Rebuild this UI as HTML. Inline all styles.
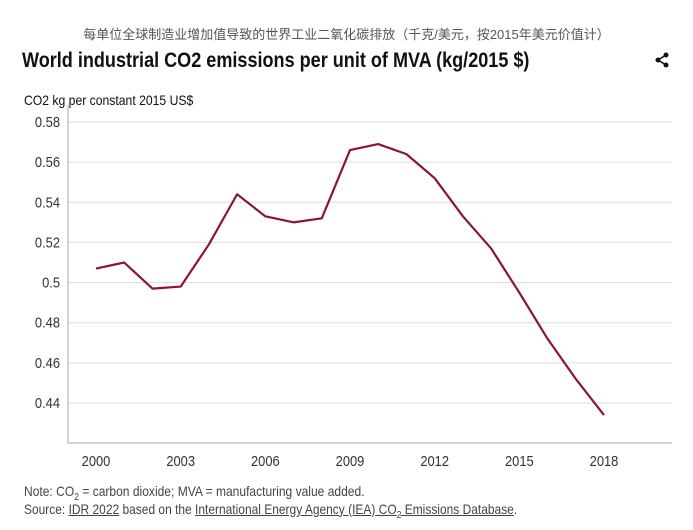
<!DOCTYPE html>
<html><head><meta charset="utf-8"><style>
body{margin:0;background:#fff;width:693px;height:530px;overflow:hidden;font-family:"Liberation Sans","Noto Sans CJK SC",sans-serif;}
.t{position:absolute;white-space:nowrap;transform-origin:0 0}
</style></head><body>
<div class="t" style="left:0;width:693px;text-align:center;top:24px;font-size:13px;color:#555">每单位全球制造业增加值导致的世界工业二氧化碳排放（千克/美元，按2015年美元价值计）</div>
<div class="t" style="left:22px;top:49px;font-size:21px;font-weight:bold;color:#111;transform:scaleX(0.86)">World industrial CO2 emissions per unit of MVA (kg/2015 $)</div>
<svg style="position:absolute;left:654px;top:52px" width="16" height="16" viewBox="0 0 16 16"><circle cx="12" cy="3" r="2.5" fill="#111"/><circle cx="4" cy="8" r="2.5" fill="#111"/><circle cx="12" cy="13" r="2.5" fill="#111"/><path d="M12 3L4 8L12 13" stroke="#111" stroke-width="1.6" fill="none"/></svg>
<div class="t" style="left:24px;top:92px;font-size:14px;color:#111;transform:scaleX(0.87)">CO2 kg per constant 2015 US$</div>
<svg id="c" width="693" height="530" style="position:absolute;left:0;top:0"></svg>
<div class="t" style="left:24px;top:483px;font-size:14px;color:#444;transform:scaleX(0.86)">Note: CO<sub style="font-size:10px">2</sub> = carbon dioxide; MVA = manufacturing value added.</div>
<div class="t" style="left:24px;top:501px;font-size:14px;color:#444;transform:scaleX(0.855)">Source: <u>IDR 2022</u> based on the <u>International Energy Agency (IEA) CO<sub style="font-size:10px">2</sub> Emissions Database</u>.</div>
<script>
const years=[2000,2001,2002,2003,2004,2005,2006,2007,2008,2009,2010,2011,2012,2013,2014,2015,2016,2017,2018];
const values=[0.507,0.510,0.497,0.498,0.519,0.544,0.533,0.530,0.532,0.566,0.569,0.564,0.552,0.533,0.517,0.495,0.472,0.452,0.434];
const yTicks=[0.44,0.46,0.48,0.5,0.52,0.54,0.56,0.58];
const xTicks=[2000,2003,2006,2009,2012,2015,2018];
const NS="http://www.w3.org/2000/svg",svg=document.getElementById('c');
const X=v=>96+(v-2000)*(604-96)/18;
const Y=v=>403-(v-0.44)*(403-122)/0.14;
function mk(t,a){const e=document.createElementNS(NS,t);for(const k in a)e.setAttribute(k,a[k]);svg.appendChild(e);return e;}
yTicks.forEach(v=>{
 const g=mk('line',{x1:68,x2:672,y1:Y(v),y2:Y(v),stroke:'#ddd','stroke-width':1});
 
 
 const t=mk('text',{transform:'translate(60,'+(Y(v)+5)+') scale(0.86,1)','text-anchor':'end','font-size':15,fill:'#333'});t.textContent=String(v);
 
 
});
const ax=mk('path',{d:'M68 105V443H672',stroke:'#aaa',fill:'none'});


xTicks.forEach(v=>{
 const t=mk('text',{transform:'translate('+X(v)+',466) scale(0.86,1)','text-anchor':'middle','font-size':15,fill:'#333'});t.textContent=v;
 
 
});
const l=mk('polyline',{points:years.map((y,i)=>X(y)+','+Y(values[i])).join(' '),fill:'none',stroke:'#8a1538','stroke-width':2.2,'stroke-linejoin':'round'});


</script>
</body></html>
